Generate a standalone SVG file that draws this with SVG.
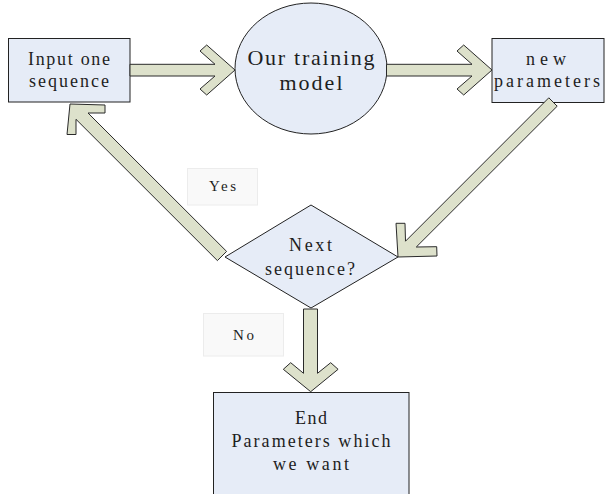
<svg xmlns="http://www.w3.org/2000/svg" width="608" height="494" viewBox="0 0 608 494">
  <style>
    .node { fill: #e6ecf7; stroke: #222; stroke-width: 1; }
    .label { fill: #f9f9f9; stroke: #ececec; stroke-width: 1; }
    .arrow { fill: #dde1cb; stroke: #2a2a2a; stroke-width: 1; stroke-linejoin: miter; }
    text { font-family: "Liberation Serif", "Times New Roman", serif; fill: #1e1e1e; text-anchor: middle; }
    .t18 { font-size: 18px; }
    .t22 { font-size: 22px; }
    .t15 { font-size: 15px; }
  </style>
  <rect width="608" height="494" fill="#ffffff"/>

  <g id="input">
    <rect class="node" x="8.5" y="38.5" width="121.5" height="63.5"/>
    <text class="t18" x="69" y="64.5" textLength="82" lengthAdjust="spacing">Input one</text>
    <text class="t18" x="69" y="87" textLength="80" lengthAdjust="spacing">sequence</text>
  </g>

  <g id="model">
    <ellipse class="node" cx="311" cy="68.5" rx="76" ry="65.5"/>
    <text class="t22" x="311" y="65" textLength="127" lengthAdjust="spacing">Our training</text>
    <text class="t22" x="311" y="90" textLength="63" lengthAdjust="spacing">model</text>
  </g>

  <g id="params">
    <rect class="node" x="492" y="38.5" width="112" height="64"/>
    <text class="t18" x="546" y="65" textLength="40" lengthAdjust="spacing">new</text>
    <text class="t18" x="547" y="87" textLength="106" lengthAdjust="spacing">parameters</text>
  </g>

  <g id="decision">
    <polygon class="node" points="225,257 311,205 398,257 311,308"/>
    <text class="t18" x="310.5" y="251" textLength="43" lengthAdjust="spacing">Next</text>
    <text class="t18" x="310" y="275" textLength="90" lengthAdjust="spacing">sequence?</text>
  </g>

  <g id="end">
    <rect class="node" x="213.5" y="392.5" width="195.5" height="110"/>
    <text class="t18" x="311" y="423.5" textLength="32" lengthAdjust="spacing">End</text>
    <text class="t18" x="311" y="447" textLength="159" lengthAdjust="spacing">Parameters which</text>
    <text class="t18" x="311" y="470" textLength="76" lengthAdjust="spacing">we want</text>
  </g>

  <g id="yes-label">
    <rect class="label" x="187.5" y="168.5" width="70" height="36.5"/>
    <text class="t15" x="222.5" y="190.5" textLength="27" lengthAdjust="spacing">Yes</text>
  </g>

  <g id="no-label">
    <rect class="label" x="203.5" y="313.5" width="80" height="42.5"/>
    <text class="t15" x="243.5" y="340" textLength="21" lengthAdjust="spacing">No</text>
  </g>

  <!-- block arrows: shaft plus open chevron head -->
  <g id="connectors">
    <polygon class="arrow" points="130,64.3 215,64.3 200,51 206.7,45 235,70 206.7,95 200,89 215,76 130,76"/>
    <polygon class="arrow" points="386.5,64.3 472,64.3 457,51 463.7,45 492,70 463.7,95 457,89 472,76 386.5,76"/>
    <polygon class="arrow" points="548.8,97.8 405.5,241.2 405,223.3 396,223.3 398,257 437,256 436.7,246.7 416.3,247 557.2,106.2"/>
    <polygon class="arrow" points="70,104 105,105 105,113 88,113 226.6,251.4 217.4,260.6 76,119.3 76,134.5 67,134.5"/>
    <polygon class="arrow" points="303.5,309 303.5,373.3 290.7,362.7 283.3,369.3 310.7,391.7 338.1,369.3 330.7,362.7 317.5,373.3 317.5,309"/>
  </g>
</svg>
